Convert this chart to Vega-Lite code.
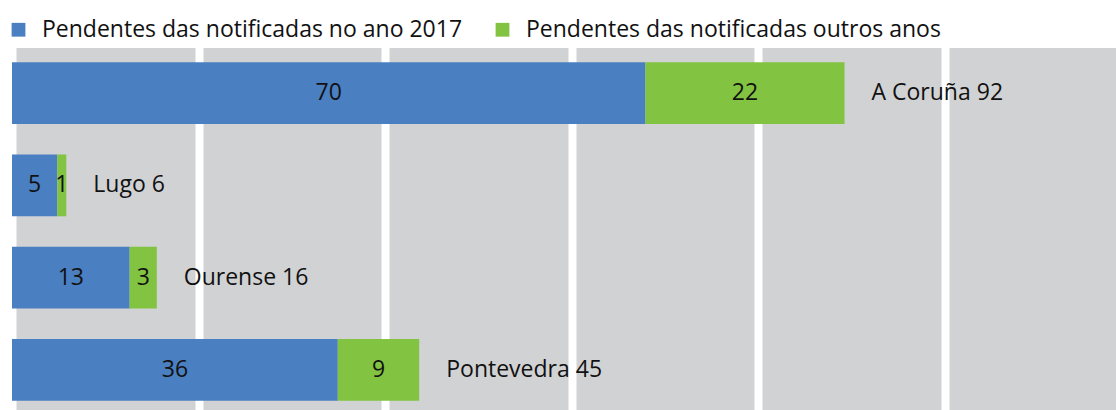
{
  "$schema": "https://vega.github.io/schema/vega-lite/v6.json",
  "width": 1104,
  "height": 362,
  "autosize": {"type": "none"},
  "padding": {"left": 12, "top": 48, "right": 0, "bottom": 0},
  "config": {
    "view": {"fill": "#D1D2D4", "stroke": null},
    "font": "Open Sans",
    "text": {"font": "Open Sans", "fontSize": 23, "color": "#111111"}
  },
  "datasets": {
    "parts": [
      {"prov": "A Coruña", "serie": "Pendentes das notificadas no ano 2017", "ord": 1, "value": 70},
      {"prov": "A Coruña", "serie": "Pendentes das notificadas outros anos", "ord": 2, "value": 22},
      {"prov": "Lugo", "serie": "Pendentes das notificadas no ano 2017", "ord": 1, "value": 5},
      {"prov": "Lugo", "serie": "Pendentes das notificadas outros anos", "ord": 2, "value": 1},
      {"prov": "Ourense", "serie": "Pendentes das notificadas no ano 2017", "ord": 1, "value": 13},
      {"prov": "Ourense", "serie": "Pendentes das notificadas outros anos", "ord": 2, "value": 3},
      {"prov": "Pontevedra", "serie": "Pendentes das notificadas no ano 2017", "ord": 1, "value": 36},
      {"prov": "Pontevedra", "serie": "Pendentes das notificadas outros anos", "ord": 2, "value": 9}
    ],
    "totals": [
      {"prov": "A Coruña", "total": 92, "label": "A Coruña 92"},
      {"prov": "Lugo", "total": 6, "label": "Lugo 6"},
      {"prov": "Ourense", "total": 16, "label": "Ourense 16"},
      {"prov": "Pontevedra", "total": 45, "label": "Pontevedra 45"}
    ]
  },
  "encoding": {
    "y": {
      "field": "prov",
      "type": "nominal",
      "sort": ["A Coruña", "Lugo", "Ourense", "Pontevedra"],
      "scale": {"paddingInner": 0.33, "paddingOuter": 0.165, "range": [-1, 368]},
      "axis": null
    }
  },
  "layer": [
    {
      "data": {"name": "parts"},
      "mark": {"type": "bar"},
      "encoding": {
        "x": {
          "field": "value",
          "type": "quantitative",
          "stack": "zero",
          "scale": {"domain": [0, 122], "nice": false, "zero": true},
          "axis": {
            "values": [0, 20.62, 41.24, 61.86, 82.48, 103.1],
            "grid": true,
            "gridColor": "#FFFFFF",
            "gridWidth": 8,
            "gridOpacity": 1,
            "labels": false,
            "ticks": false,
            "domain": false,
            "title": null
          }
        },
        "order": {"field": "ord"},
        "color": {
          "field": "serie",
          "type": "nominal",
          "scale": {
            "domain": ["Pendentes das notificadas no ano 2017", "Pendentes das notificadas outros anos"],
            "range": ["#4A7FC1", "#82C341"]
          },
          "legend": {
            "orient": "none",
            "direction": "horizontal",
            "legendX": -5,
            "legendY": -30,
            "padding": 0,
            "title": null,
            "symbolType": "square",
            "symbolSize": 190,
            "symbolStrokeWidth": 0,
            "symbolOpacity": 1,
            "labelFont": "Open Sans",
            "labelFontSize": 23,
            "labelColor": "#111111",
            "labelOffset": 12,
            "labelLimit": 600,
            "columnPadding": 28
          }
        }
      }
    },
    {
      "data": {"name": "parts"},
      "transform": [
        {"stack": "value", "groupby": ["prov"], "sort": [{"field": "ord"}], "as": ["v0", "v1"]},
        {"fold": ["v0", "v1"], "as": ["edge", "pos"]},
        {"aggregate": [{"op": "mean", "field": "pos", "as": "mid"}], "groupby": ["prov", "ord", "value"]}
      ],
      "mark": {"type": "text", "align": "center", "baseline": "middle"},
      "encoding": {
        "x": {"field": "mid", "type": "quantitative"},
        "text": {"field": "value", "type": "quantitative"}
      }
    },
    {
      "data": {"name": "totals"},
      "mark": {"type": "text", "align": "left", "baseline": "middle", "dx": 27},
      "encoding": {
        "x": {"field": "total", "type": "quantitative"},
        "text": {"field": "label"}
      }
    }
  ]
}
